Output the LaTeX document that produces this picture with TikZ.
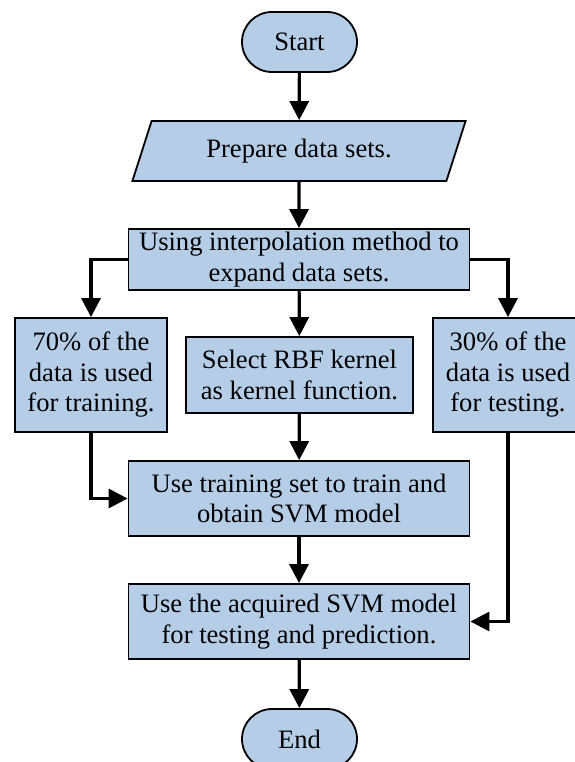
\documentclass[tikz,border=0pt]{standalone}
\usepackage{fontspec}
\setmainfont{Liberation Serif}
\usetikzlibrary{arrows.meta,shapes.misc,shapes.geometric}
\definecolor{boxblue}{RGB}{181,205,230}

\begin{document}
\begin{tikzpicture}[x=1pt,y=-1pt,
        every node/.style={font=\fontsize{26.6}{30.5}\selectfont, align=center, fill=boxblue, draw, line width=1.8pt, inner sep=0pt},
        term/.style={rounded rectangle, minimum width=115pt, minimum height=60pt},
        io/.style={trapezium, trapezium left angle=63.4, trapezium right angle=116.6, trapezium stretches=true, minimum width=334pt, minimum height=60pt},
        proc/.style={rectangle},
        flow/.style={line width=3.2pt, -{Triangle[length=19pt,width=19pt]}}]
    \useasboundingbox (0,0) rectangle (574,762);

    \node[term] (start) at (299.5,42) {Start};
    \node[io] (prep) at (299,151) {Prepare data sets.};
    \node[proc, minimum width=341pt, minimum height=61pt] (expand) at (299,259.5) {Using interpolation method to\\expand data sets.};
    \node[proc, minimum width=152pt, minimum height=114pt] (train70) at (91,375) {70\% of the\\data is used\\for training.}; \node[proc, minimum width=227pt, minimum height=76pt] (kernel) at (299.5,375) {Select RBF kernel\\as kernel function.}; \node[proc, minimum width=150pt, minimum height=114pt] (test30) at (508,375) {30\% of the\\data is used\\for testing.};
    \node[proc, minimum width=341pt, minimum height=75pt] (model) at (299,498.5) {Use training set to train and\\obtain SVM model};
    \node[proc, minimum width=341pt, minimum height=75pt] (predict) at (299,621.5) {Use the acquired SVM model\\for testing and prediction.};
    \node[term] (end) at (299.5,739) {End};

    \draw[flow] (start) to (prep); \draw[flow] (prep) to (expand);
    \draw[flow] (expand.west) -| (train70); \draw[flow] (expand) to (kernel); \draw[flow] (expand.east) -| (test30);
    \draw[flow] (kernel) to (model); \draw[flow] (train70.south) |- (model.west);
    \draw[flow] (model) to (predict); \draw[flow] (test30.south) |- (predict.east);
    \draw[flow] (predict) to (end);
\end{tikzpicture}
\end{document}
